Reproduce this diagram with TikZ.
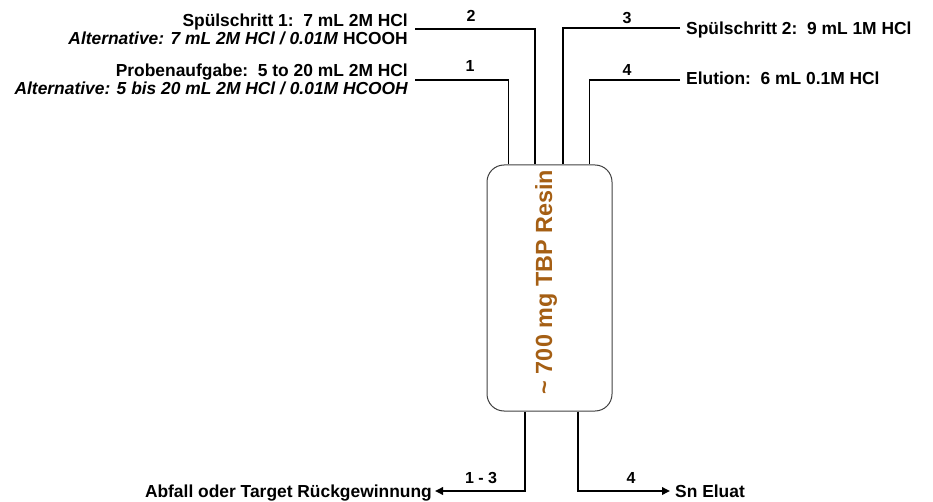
\documentclass[tikz,border=0pt]{standalone}
\usepackage{fontspec}
\setmainfont{Liberation Sans}
\usetikzlibrary{positioning, arrows.meta}
\definecolor{resinbrown}{RGB}{165,95,20}

\begin{document}
\begin{tikzpicture}[
        x=1pt, y=-1pt,
        lbl/.style={font=\fontsize{17.4}{18}\selectfont\bfseries, inner sep=0pt},
        numlbl/.style={font=\fontsize{16}{18}\selectfont\bfseries, inner sep=0pt},
        resinbox/.style={rectangle, draw=black!75, line width=1pt, rounded corners=17pt,
          minimum width=125pt, minimum height=246pt},
        pipe/.style={draw=black, line width=1.8pt},
        outflow/.style={pipe, -{Triangle[length=8pt,width=7.5pt]}}
      ]
        \useasboundingbox (0,0) rectangle (933,502);

        \node[resinbox] (resin) at (549.5,288) {};
        \node[rotate=90, text=resinbrown, inner sep=0pt,
          font=\fontsize{23.4}{24}\selectfont\bfseries] (resintxt) at (546,282) {\textasciitilde{} 700 mg TBP Resin};

        % corners of the tubes
        \coordinate (k1) at (508.5,80);
        \coordinate (k2) at (535,29);
        \coordinate (k3) at (563,28);
        \coordinate (k4) at (589.5,80);
        \coordinate (k13) at (525,491);
        \coordinate (k4out) at (578,491);

        % inlets
        \node[lbl, inner xsep=7pt, anchor=base east] (spuel1) at (415,27) {Spülschritt 1:\ \ 7 mL 2M HCl};
        \node[lbl, inner xsep=7pt, anchor=base east] (spuel1alt) at (415,45) {{\itshape Alternative: 7 mL 2M HCl / 0.01M\/} HCOOH};
        \node[lbl, inner xsep=7pt, anchor=base east] (probe) at (415,77) {Probenaufgabe:\ \ 5 to 20 mL 2M HCl};
        \node[lbl, inner xsep=7pt, anchor=base east] (probealt) at (415,95) {\itshape Alternative: 5 bis 20 mL 2M HCl / 0.01M HCOOH};
        \node[lbl, inner xsep=6pt, anchor=base west] (spuel2) at (680,35) {Spülschritt 2:\ \ 9 mL 1M HCl};
        \node[lbl, inner xsep=6pt, anchor=base west] (elution) at (680,85) {Elution:\ \ 6 mL 0.1M HCl};

        % outlets
        \node[lbl, inner xsep=3pt, anchor=base east] (abfall) at (435,497) {Abfall oder Target Rückgewinnung};
        \node[lbl, inner xsep=5pt, anchor=base west] (eluat) at (670,497) {Sn Eluat};

        \node[numlbl] (n2) at (471,16) {2};
        \node[numlbl] (n1) at (470,66) {1};
        \node[numlbl] (n3) at (627,18) {3};
        \node[numlbl] (n4) at (627,70) {4};
        \node[numlbl] (n13) at (481,478) {1 - 3};
        \node[numlbl] (n4b) at (631,478) {4};

        \draw[pipe] (spuel1.east |- k2) -- (k2) -- (k2 |- resin.north);
        \draw[pipe] (probe.east |- k1) -- (k1) -- (k1 |- resin.north);
        \draw[pipe] (spuel2.west |- k3) -- (k3) -- (k3 |- resin.north);
        \draw[pipe] (elution.west |- k4) -- (k4) -- (k4 |- resin.north);
        \draw[outflow] (resin.south -| k13) -- (k13) -- (abfall.east |- k13);
        \draw[outflow] (resin.south -| k4out) -- (k4out) -- (eluat.west |- k4out);
      \end{tikzpicture}
\end{document}
